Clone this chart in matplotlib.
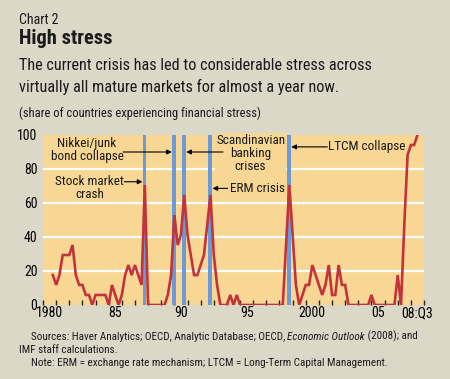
import matplotlib
matplotlib.use("Agg")
import matplotlib.pyplot as plt
import pandas as pd
from matplotlib import font_manager

# share of countries experiencing financial stress, quarterly 1980:Q4 - 2008:Q3
first_quarter = "1980Q4"
last_quarter = "2008Q3"
stress_share = [
    17.6, 11.8, 17.6, 29.4, 29.4, 29.4, 35.3, 17.6, 11.8, 11.8,   # 80Q4-83Q1
    5.9, 5.9, 0, 5.9, 5.9, 5.9, 5.9, 0, 11.8, 5.9,              # 83Q2-85Q3
    0, 5.9, 17.6, 23.5, 17.6, 23.5, 17.6, 11.8, 70.6, 0,        # 85Q4-88Q1
    0, 0, 0, 0, 0, 5.9, 17.6, 52.9, 35.3, 41.2,                 # 88Q2-90Q3
    64.7, 41.2, 29.4, 17.6, 17.6, 23.5, 29.4, 47.1, 64.7, 29.4, # 90Q4-93Q1
    11.8, 0, 0, 0, 5.9, 0, 5.9, 0, 0, 0,                        # 93Q2-95Q3
    0, 0, 0, 0, 0, 0, 0, 0, 0, 0,                               # 95Q4-98Q1
    0, 35.3, 70.6, 41.2, 11.8, 0, 5.9, 11.8, 11.8, 23.5,        # 98Q2-00Q3
    17.6, 11.8, 5.9, 11.8, 23.5, 5.9, 5.9, 23.5, 11.8, 11.8,    # 00Q4-03Q1
    0, 0, 0, 0, 0, 0, 0, 5.9, 0, 0,                             # 03Q2-05Q3
    0, 0, 0, 0, 0, 17.6, 0, 47.1, 88.2, 94.1,                   # 05Q4-08Q1
    94.1, 100,                                                  # 08Q2-08Q3
]

# crisis markers (fractional years)
crisis_dates = [1987.72, 1989.97, 1990.73, 1992.72, 1998.72]

year_ticks = list(range(1980, 2010))
label_years = [1980, 1985, 1990, 1995, 2000, 2005, 2008]
label_text = ["1980", "85", "90", "95", "2000", "05", "08:Q3"]
y_ticks = [0, 20, 40, 60, 80, 100]

PAGE = "#dcd8c8"
PANEL = "#f8d795"
RED = "#c2343a"
BLUE = "#6b9ad9"


def pick_font(names):
    for name in names:
        try:
            font_manager.findfont(font_manager.FontProperties(family=name),
                                  fallback_to_default=False)
            return name
        except ValueError:
            continue
    return "DejaVu Sans"


FONT = pick_font(["Liberation Sans Narrow", "Roboto Condensed", "DejaVu Sans"])
plt.rcParams["font.family"] = [FONT, "DejaVu Sans"]
plt.rcParams["text.color"] = "#1a1a1a"

W, H = 450, 379
fig = plt.figure(figsize=(W / 100, H / 100), dpi=100, facecolor=PAGE)


def fx(px):
    return px / W


def fy(py):
    return 1 - py / H


ax = fig.add_axes([fx(43), fy(305), fx(424) - fx(43), fy(135) - fy(305)])
ax.set_facecolor(PANEL)

periods = pd.period_range(first_quarter, last_quarter, freq="Q")
t = periods.year + (periods.quarter - 1) / 4

for c in crisis_dates:
    ax.axvspan(c - 0.14, c + 0.14, color=BLUE, lw=0, zorder=2)

ax.plot(t, stress_share, color=RED, lw=1.9, zorder=3, solid_joinstyle="miter")

ax.set_xlim(1980, 2009)
ax.set_ylim(0, 100)
for s in ax.spines.values():
    s.set_visible(False)

ax.set_yticks(y_ticks)
ax.set_yticklabels([str(v) for v in y_ticks])
for v in y_ticks[1:-1]:
    ax.axhline(v, color="white", lw=1.6, zorder=1)
ax.tick_params(axis="y", length=0, pad=4, labelsize=10)

ax.set_xticks([y + 0.5 for y in label_years])
ax.set_xticklabels(label_text)
ax.set_xticks(year_ticks, minor=True)
ax.tick_params(axis="x", which="major", length=0, pad=1, labelsize=10)
ax.tick_params(axis="x", which="minor", length=3.5, width=1, direction="in",
               color="#222222")

# annotations
arrow = dict(arrowstyle="-|>", color="black", lw=0.8, mutation_scale=7,
             shrinkA=0, shrinkB=0)
tbox = dict(facecolor=PANEL, edgecolor="none", pad=0.6)
tkw = dict(fontsize=9.5, zorder=4, bbox=tbox, linespacing=1.0)

ax.text(1983.35, 91, "Nikkei/junk\nbond collapse", ha="center", va="center", **tkw)
ax.annotate("", xy=(1989.8, 90), xytext=(1986.1, 90), arrowprops=arrow, zorder=4)

ax.text(1983.55, 69, "Stock market\ncrash", ha="center", va="center", **tkw)
ax.annotate("", xy=(1987.57, 72.5), xytext=(1986.2, 72.5), arrowprops=arrow, zorder=4)

ax.text(1995.8, 89, "Scandinavian\nbanking\ncrises", ha="center", va="center", **tkw)
ax.annotate("", xy=(1990.9, 90), xytext=(1993.7, 90), arrowprops=arrow, zorder=4)

ax.text(1994.25, 68.6, "ERM crisis", ha="left", va="center", **tkw)
ax.annotate("", xy=(1992.9, 68.6), xytext=(1994.05, 68.6), arrowprops=arrow, zorder=4)

ax.text(2004.6, 93, "LTCM collapse", ha="center", va="center", **tkw)
ax.annotate("", xy=(1998.9, 93), xytext=(2001.65, 93), arrowprops=arrow, zorder=4)

# header
fig.text(fx(19), fy(24), "Chart 2", fontsize=10, va="baseline")
fig.text(fx(19), fy(44.5), "High stress", fontsize=14.7, fontweight="bold", va="baseline")
fig.text(fx(19), fy(70.5), "The current crisis has led to considerable stress across",
         fontsize=11.7, va="baseline")
fig.text(fx(19), fy(92), "virtually all mature markets for almost a year now.",
         fontsize=11.7, va="baseline")
fig.text(fx(19), fy(116.5), "(share of countries experiencing financial stress)",
         fontsize=9, va="baseline")

# footer, with one italic title inside the first line
fig.canvas.draw()
renderer = fig.canvas.get_renderer()
src_size = 8.0
x = fx(30.5)
for piece, style in [("Sources: Haver Analytics; OECD, Analytic Database; OECD, ", "normal"),
                     ("Economic Outlook", "italic"),
                     (" (2008); and", "normal")]:
    txt = fig.text(x, fy(339.5), piece, fontsize=src_size, style=style, va="baseline")
    x += txt.get_window_extent(renderer).width / W
fig.text(fx(19), fy(353), "IMF staff calculations.", fontsize=src_size, va="baseline")
fig.text(fx(30.5), fy(366.5),
         "Note: ERM = exchange rate mechanism; LTCM = Long-Term Capital Management.",
         fontsize=src_size, va="baseline")

fig.savefig("out.png", dpi=100, facecolor=PAGE)
